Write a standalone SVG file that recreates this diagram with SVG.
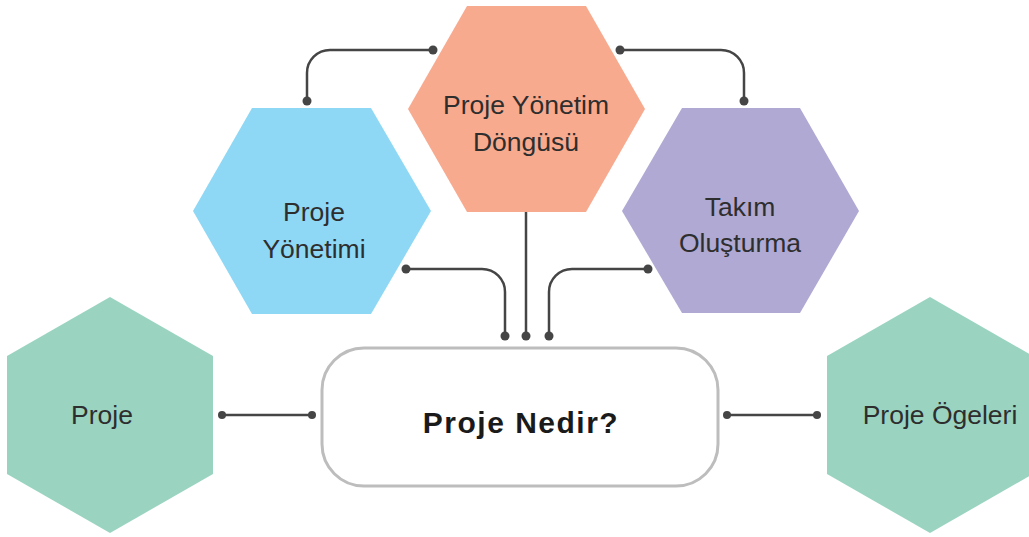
<svg xmlns="http://www.w3.org/2000/svg" width="1029" height="537" viewBox="0 0 1029 537">
  <style>
    .lbl { font-family: "Liberation Sans", Arial, sans-serif; font-size: 26.5px; fill: #2e2e2e; text-anchor: middle; }
    .title { font-family: "Liberation Sans", Arial, sans-serif; font-size: 30px; font-weight: bold; letter-spacing: 1.5px; fill: #1a1a1a; text-anchor: middle; }
    .wire { fill: none; stroke: #454545; stroke-width: 2.5; }
    .dot { fill: #454545; }
  </style>
  <rect width="1029" height="537" fill="#ffffff"/>

  <!-- hexagon nodes -->
  <g id="node-cycle">
    <polygon points="467,6 586,6 645,109 586,212 467,212 408,109" fill="#F8AA8F"/>
    <text class="lbl" x="526" y="114">Proje Yönetim</text>
    <text class="lbl" x="526" y="151">Döngüsü</text>
  </g>
  <g id="node-management">
    <polygon points="252,108 371,108 431,211 371,314 252,314 193,211" fill="#8ED8F5"/>
    <text class="lbl" x="314" y="221">Proje</text>
    <text class="lbl" x="314" y="258">Yönetimi</text>
  </g>
  <g id="node-team">
    <polygon points="682,108 800,108 859,211 800,313 682,313 622,211" fill="#AFA9D3"/>
    <text class="lbl" x="740" y="216">Takım</text>
    <text class="lbl" x="740" y="252">Oluşturma</text>
  </g>
  <g id="node-project">
    <polygon points="110,297 213,356 213,474 110,533 7,474 7,356" fill="#9AD4C1"/>
    <text class="lbl" x="102" y="424">Proje</text>
  </g>
  <g id="node-elements">
    <polygon points="930,297 1033,356 1033,474 930,533 827,474 827,356" fill="#9AD4C1"/>
    <text class="lbl" x="940" y="424">Proje Ögeleri</text>
  </g>

  <!-- central node -->
  <g id="node-center">
    <rect x="322" y="348" width="396" height="138" rx="42" ry="42" fill="#ffffff" stroke="#BDBDBD" stroke-width="3"/>
    <text class="title" x="521" y="433">Proje Nedir?</text>
  </g>

  <!-- connectors -->
  <g id="connectors">
    <path class="wire" d="M433,50 H330 A23,23 0 0 0 307,73 V101"/>
    <circle class="dot" cx="433" cy="50" r="4.5"/>
    <circle class="dot" cx="307" cy="101" r="4.5"/>

    <path class="wire" d="M620,50 H721 A23,23 0 0 1 744,73 V101"/>
    <circle class="dot" cx="620" cy="50" r="4.5"/>
    <circle class="dot" cx="744" cy="101" r="4.5"/>

    <path class="wire" d="M406,269 H482 A23,23 0 0 1 505,292 V336"/>
    <circle class="dot" cx="406" cy="269" r="4.5"/>
    <circle class="dot" cx="505" cy="336" r="4.5"/>

    <path class="wire" d="M526,212 V336"/>
    <circle class="dot" cx="526" cy="336" r="4.5"/>

    <path class="wire" d="M648,269 H572 A23,23 0 0 0 549,292 V336"/>
    <circle class="dot" cx="648" cy="269" r="4.5"/>
    <circle class="dot" cx="549" cy="336" r="4.5"/>

    <path class="wire" d="M222,415 H312"/>
    <circle class="dot" cx="222" cy="415" r="4"/>
    <circle class="dot" cx="312" cy="415" r="4"/>

    <path class="wire" d="M727,415 H817"/>
    <circle class="dot" cx="727" cy="415" r="4"/>
    <circle class="dot" cx="817" cy="415" r="4"/>
  </g>
</svg>
